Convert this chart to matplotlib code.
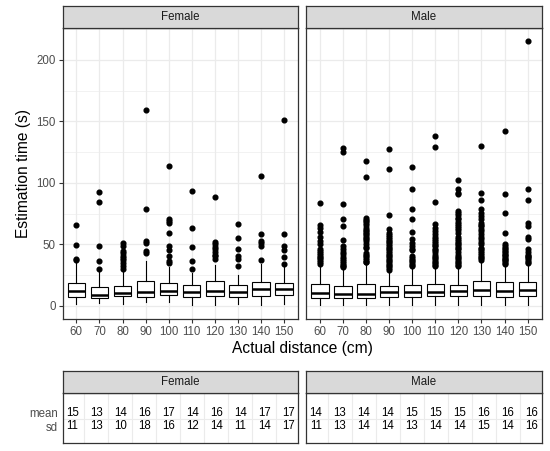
import matplotlib
matplotlib.use("Agg")
import matplotlib.pyplot as plt

plt.rcParams['font.family'] = ['Liberation Sans', 'DejaVu Sans']

distances = ["60", "70", "80", "90", "100", "110", "120", "130", "140", "150"]
genders = ["Female", "Male"]

# box statistics (seconds)
female_med = [11.7, 9.0, 10.0, 11.2, 11.7, 11.2, 11.7, 11.4, 13.6, 13.9]
female_q1 = [7.1, 6.0, 7.6, 7.1, 9.0, 7.1, 7.9, 7.4, 8.2, 9.0]
female_q3 = [18.8, 15.5, 15.8, 20.2, 18.8, 16.9, 20.2, 16.9, 19.1, 18.8]
female_lo = [1.6, 2.2, 1.6, 2.7, 2.7, 1.0, 0.5, 1.6, 0.5, 1.6]
female_hi = [36.0, 28.0, 31.6, 36.2, 31.6, 26.7, 33.5, 25.3, 34.3, 34.0]
female_out = [
    [65.7, 49.3, 38.4, 37.6],
    [92.9, 84.2, 48.5, 36.8, 30.0],
    [51.2, 48.5, 44.4, 43.0, 40.9, 39.0, 37.0, 34.9, 32.7, 30.0],
    [158.9, 78.5, 52.6, 51.2, 44.4, 43.0],
    [114.0, 70.3, 68.9, 67.6, 58.9, 48.5, 45.2, 40.9, 36.2, 34.9],
    [93.5, 63.0, 48.0, 36.2, 30.2],
    [88.8, 52.0, 49.9, 47.7, 45.8, 43.6, 41.7, 40.3, 38.4],
    [66.2, 55.3, 45.8, 40.3, 38.4, 32.2],
    [105.2, 58.0, 52.6, 51.2, 49.0, 37.6],
    [151.2, 58.0, 48.5, 45.2, 39.8, 34.3],
]

male_med = [10.4, 9.8, 9.8, 10.9, 11.4, 11.2, 11.7, 12.5, 12.3, 12.5]
male_q1 = [6.3, 6.3, 6.3, 6.8, 7.4, 7.6, 7.9, 7.6, 7.4, 7.6]
male_q3 = [17.7, 16.3, 17.7, 15.8, 17.2, 18.0, 16.9, 19.9, 19.1, 19.1]
male_lo = [0.3, 0.3, 0.8, 0.3, 0.3, 0.3, 0.3, 0.3, 0.3, 0.3]
male_hi = [32.7, 30.8, 34.9, 28.0, 30.8, 30.8, 31.6, 36.2, 33.5, 34.9]
male_out = [
    [84.0, 66.0, 63.5, 60.0, 56.0, 53.0, 50.5, 46.0, 44.5, 43.0, 41.5, 40.0,
     38.5, 37.0, 35.5, 34.0],
    [128.3, 124.8, 82.6, 70.8, 64.9, 53.4, 48.5, 46.0, 44.0, 42.0, 40.0, 38.0,
     36.5, 35.0, 33.5, 32.0, 31.3],
    [117.4, 104.6, 71.7, 70.0, 68.9, 67.0, 65.5, 63.5, 62.0, 60.8, 59.0, 58.0,
     56.5, 55.3, 54.0, 52.6, 50.0, 48.0, 47.0, 43.0, 41.5, 40.3, 39.0, 37.6,
     36.0, 35.4],
    [127.5, 111.2, 73.6, 62.1, 59.4, 57.5, 56.0, 54.5, 53.0, 51.5, 50.0, 48.5,
     47.0, 45.8, 44.5, 43.0, 41.5, 40.3, 39.0, 37.6, 36.2, 34.9, 33.5, 32.2,
     31.0, 29.4],
    [113.0, 94.8, 78.5, 70.3, 59.9, 54.0, 50.7, 48.5, 46.5, 45.0, 40.3, 39.0,
     37.6, 36.2, 34.9, 33.5, 32.7],
    [138.4, 129.4, 84.2, 66.2, 63.5, 60.8, 58.0, 56.0, 54.5, 52.5, 51.2, 49.5,
     48.5, 46.5, 45.2, 43.5, 41.7, 40.0, 38.5, 37.6, 36.0, 34.9, 33.5, 32.2],
    [102.7, 95.0, 92.0, 90.7, 76.8, 75.7, 73.6, 71.5, 70.3, 68.0, 66.2, 65.0,
     63.5, 61.5, 59.4, 56.0, 54.0, 52.5, 51.2, 50.0, 48.5, 47.0, 45.8, 43.5,
     41.7, 40.0, 38.5, 37.6, 36.0, 34.9, 33.5, 32.2],
    [129.6, 92.1, 86.1, 79.0, 75.7, 73.0, 70.3, 67.6, 66.0, 64.9, 62.5, 60.8,
     58.0, 56.0, 54.0, 52.0, 49.9, 47.1, 46.0, 44.4, 43.0, 41.7, 39.8, 38.5,
     37.6],
    [142.0, 91.3, 75.7, 59.4, 49.9, 48.5, 47.1, 45.8, 44.4, 43.5, 42.5, 41.5,
     40.3, 39.0, 38.1, 37.0, 36.2, 35.0, 34.3],
    [215.5, 94.8, 85.8, 67.6, 64.9, 56.1, 54.5, 45.8, 44.0, 41.7, 40.5, 39.8,
     38.5, 37.6, 36.0, 34.9],
]

female_mean = [15, 13, 14, 16, 17, 14, 16, 14, 17, 17]
female_sd = [11, 13, 10, 18, 16, 12, 14, 11, 14, 17]
male_mean = [14, 13, 14, 14, 15, 15, 15, 16, 16, 16]
male_sd = [11, 13, 14, 14, 13, 14, 14, 15, 14, 16]

GRID = "#EBEBEB"
BORDER = "#333333"
STRIP = "#D9D9D9"
TXT = "#4D4D4D"
SMALL = 8.3
BIG = 11.2
W, H = 550.0, 451.0


def frac(x0, y0, x1, y1):
    return [x0 / W, 1 - y1 / H, (x1 - x0) / W, (y1 - y0) / H]


def strip(rect, label):
    s = fig.add_axes(rect)
    s.set_facecolor(STRIP)
    s.set_xticks([])
    s.set_yticks([])
    for sp in s.spines.values():
        sp.set_color(BORDER)
        sp.set_linewidth(0.9)
    s.text(0.5, 0.5, label, ha="center", va="center", fontsize=SMALL,
           color="#1A1A1A", transform=s.transAxes)


def stats(med, q1, q3, lo, hi, out):
    return [dict(med=m, q1=a, q3=b, whislo=l, whishi=h, fliers=f)
            for m, a, b, l, h, f in zip(med, q1, q3, lo, hi, out)]


fig = plt.figure(figsize=(5.5, 4.51), dpi=100)

panels = [
    (62.5, 298.0, stats(female_med, female_q1, female_q3, female_lo, female_hi, female_out),
     female_mean, female_sd),
    (306.0, 541.5, stats(male_med, male_q1, male_q3, male_lo, male_hi, male_out),
     male_mean, male_sd),
]

pos = list(range(1, len(distances) + 1))

for k, (x0, x1, bstats, mean_vals, sd_vals) in enumerate(panels):
    ax = fig.add_axes(frac(x0, 28.3, x1, 319.0))
    strip(frac(x0, 6.0, x1, 28.3), genders[k])
    ax.set_ylim(-10.75, 225.75)
    ax.set_xlim(0.4, 10.6)
    for v in [25, 75, 125, 175, 225]:
        ax.axhline(v, color=GRID, lw=0.45, zorder=0)
    for v in [0, 50, 100, 150, 200]:
        ax.axhline(v, color=GRID, lw=0.9, zorder=0)
    for p in pos:
        ax.axvline(p, color=GRID, lw=0.9, zorder=0)
    ax.bxp(bstats, positions=pos, widths=0.75, patch_artist=True,
           showcaps=False,
           boxprops=dict(facecolor="white", edgecolor="black", linewidth=0.8),
           whiskerprops=dict(color="black", linewidth=0.8),
           medianprops=dict(color="black", linewidth=1.8),
           flierprops=dict(marker="o", markerfacecolor="black",
                           markeredgecolor="black", markersize=3.4))
    ax.set_xticks(pos)
    ax.set_xticklabels(distances)
    ax.set_yticks([0, 50, 100, 150, 200])
    ax.tick_params(colors=BORDER, labelcolor=TXT, labelsize=SMALL, length=3,
                   width=0.8, pad=2)
    if k == 0:
        ax.set_ylabel("Estimation time (s)", fontsize=BIG, labelpad=4)
    else:
        ax.tick_params(axis="y", left=False, labelleft=False)
    for sp in ax.spines.values():
        sp.set_color(BORDER)
        sp.set_linewidth(0.9)

    # summary table below
    tb = fig.add_axes(frac(x0, 393.3, x1, 443.3))
    strip(frac(x0, 370.7, x1, 393.3), genders[k])
    tb.set_xlim(0.6, 10.4)
    tb.set_ylim(-0.3, 3.46)
    tb.axhline(1.5, color=GRID, lw=0.8, zorder=0)
    for p in pos[:-1]:
        tb.axvline(p + 0.5, color=GRID, lw=0.8, zorder=0)
    for p, m, s in zip(pos, mean_vals, sd_vals):
        tb.text(p, 2, str(m), ha="center", va="center", fontsize=SMALL)
        tb.text(p, 1, str(s), ha="center", va="center", fontsize=SMALL)
    tb.set_xticks([])
    if k == 0:
        tb.set_yticks([2, 1])
        tb.set_yticklabels(["mean", "sd"])
        tb.tick_params(axis="y", length=0, labelcolor=TXT, labelsize=SMALL, pad=3)
    else:
        tb.set_yticks([])
    for sp in tb.spines.values():
        sp.set_color(BORDER)
        sp.set_linewidth(0.9)

fig.text(302 / W, 1 - 348.3 / H, "Actual distance (cm)", ha="center",
         va="center", fontsize=BIG)

fig.savefig("out.png", dpi=100)
